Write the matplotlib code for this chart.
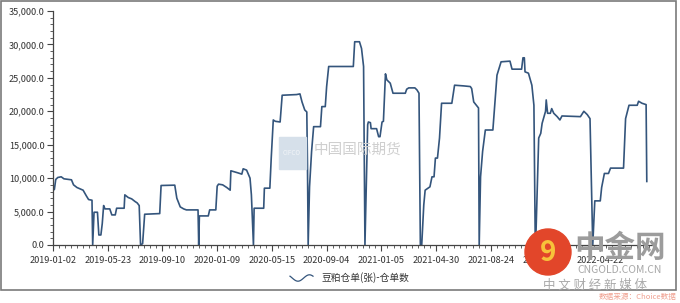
#!/usr/bin/env python3

import matplotlib
matplotlib.use("Agg")
import matplotlib.pyplot as plt
from matplotlib.ticker import FuncFormatter, AutoMinorLocator, MultipleLocator
from matplotlib.patches import Rectangle, Ellipse
from matplotlib.lines import Line2D
import numpy as np

plt.rcParams['font.family'] = ['Noto Sans CJK SC', 'DejaVu Sans']

# trading-day index of each turning point, and the receipt count there
day_idx = [0, 2, 4, 7, 12, 16, 27, 30, 35, 44, 49, 52, 57, 58, 60, 65, 67, 70,
           72, 74, 76, 83, 86, 91, 93, 104, 105, 110, 115, 120, 123, 126, 128,
           131, 134, 156, 158, 178, 181, 186, 191, 195, 212, 213, 214, 227, 229,
           238, 240, 242, 248, 254, 259, 260, 270, 276, 278, 283, 288, 290, 293,
           294, 308, 309, 317, 319, 322, 325, 332, 335, 356, 361, 364, 368, 371,
           372, 373, 375, 378, 381, 391, 393, 398, 400, 403, 439, 441, 448, 451,
           454, 456, 460, 461, 464, 465, 473, 476, 478, 481, 483, 486, 488, 493,
           497, 515, 517, 520, 529, 532, 535, 537, 539, 542, 544, 551, 554, 557,
           559, 562, 565, 568, 583, 587, 600, 610, 612, 615, 619, 622, 623, 625,
           628, 632, 643, 645, 649, 655, 668, 671, 685, 687, 689, 690, 695, 700,
           703, 705, 706, 710, 713, 715, 720, 721, 723, 727, 729, 732, 737, 741,
           744, 771, 776, 781, 785, 789, 792, 800, 802, 806, 812, 815, 834, 837,
           842, 854, 856, 861, 867, 868]
receipts = [8200, 8300, 9800, 10100, 10200, 9900, 9750, 9000, 8600, 8200, 7300,
            6800, 6700, 0, 4900, 4900, 1500, 1500, 3200, 5900, 5400, 5400, 4500,
            4500, 5500, 5500, 7500, 7100, 6900, 6500, 6300, 5900, 0, 200, 4600,
            4700, 8900, 8950, 7000, 5700, 5400, 5250, 5250, 0, 4350, 4350, 5250,
            5250, 8800, 9100, 9000, 8600, 8200, 11100, 10800, 10600, 11400, 11200,
            10000, 7500, 0, 5500, 5500, 8500, 8500, 13000, 18700, 18500, 18400,
            22400, 22500, 22600, 21400, 20200, 19900, 12000, 0, 8700, 14000,
            17700, 17700, 20700, 20700, 23700, 26700, 26700, 30400, 30400, 29400,
            26700, 0, 18000, 18400, 18300, 17400, 17400, 16200, 16200, 18400,
            18500, 25600, 24700, 24200, 22700, 22700, 23300, 23500, 23500, 23200,
            22700, 0, 0, 6000, 8200, 8700, 10200, 10200, 13000, 13000, 16000,
            21200, 21200, 23900, 23800, 23700, 23400, 21400, 20900, 20500, 0,
            10200, 14000, 17200, 17200, 20000, 25400, 27400, 27500, 26300, 26300,
            28000, 28000, 25900, 25700, 23900, 20900, 0, 1700, 16000, 16700,
            18200, 20000, 21700, 19700, 19700, 20400, 19700, 19200, 18700, 19300,
            19200, 20000, 19500, 18900, 0, 6600, 6600, 8600, 10700, 10700, 11500,
            11500, 18900, 20900, 20900, 21500, 21200, 21000, 9500]

date_labels = ['2019-01-02', '2019-05-23', '2019-09-10', '2020-01-09',
               '2020-05-15', '2020-09-04', '2021-01-05', '2021-04-30',
               '2021-08-24', '2021-12-17', '2022-04-22']
label_step = 80

W, H = 680, 303


def fx(px):
    return px / W


def fy(py):
    return 1 - py / H


fig = plt.figure(figsize=(6.8, 3.03), dpi=100)
ax = fig.add_axes([fx(53), 58 / H, 602 / W, 234 / H])

ax.plot(day_idx, receipts, color='#34557c', lw=1.2, zorder=2)

ax.set_xlim(0, 880)
ax.set_ylim(0, 35000)

# ticks
ax.set_xticks(np.arange(len(date_labels)) * label_step)
ax.set_xticklabels(date_labels)
ax.xaxis.set_minor_locator(MultipleLocator(label_step / 9))
ax.yaxis.set_major_locator(MultipleLocator(5000))
ax.yaxis.set_minor_locator(AutoMinorLocator(5))
ax.yaxis.set_major_formatter(FuncFormatter(lambda v, p: '{:,.1f}'.format(v)))

ax.tick_params(axis='both', which='major', direction='out', length=4,
               width=0.8, color='#444444', labelsize=6.6, labelcolor='#333333',
               pad=2)
ax.tick_params(axis='both', which='minor', direction='out', length=2,
               width=0.6, color='#444444')
ax.tick_params(axis='x', which='major', pad=4)

for s in ['top', 'right']:
    ax.spines[s].set_visible(False)
for s in ['left', 'bottom']:
    ax.spines[s].set_color('#444444')
    ax.spines[s].set_linewidth(0.9)

# outer border of the picture
fig.patches.append(Rectangle((fx(1), fy(290)), 675 / W, 289 / H,
                             transform=fig.transFigure, fill=False,
                             edgecolor='#7a7a7a', lw=1.2))

# legend
wx = np.linspace(290, 313, 30)
wy = 278 + 3.2 * np.sin((wx - 290) / 23 * 2 * np.pi - 0.6)
fig.add_artist(Line2D(fx(wx), fy(wy), transform=fig.transFigure,
                      color='#34557c', lw=0.9))
fig.text(fx(322), fy(278), '豆粕仓单(张)-仓单数', fontsize=7,
         color='#333333', va='center', ha='left')

# watermark of the source
fig.patches.append(Rectangle((fx(279), fy(169)), 27 / W, 32 / H,
                             transform=fig.transFigure, color='#d6e0ea',
                             zorder=1))
fig.text(fx(292), fy(153), 'CIFCO', fontsize=4.5, color='#f2f5f8',
         ha='center', va='center')
fig.text(fx(357), fy(150), '中国国际期货', fontsize=10.5,
         color='#cfcfcf', ha='center', va='center')

# 中金网 logo
fig.patches.append(Ellipse((fx(548), fy(252)), 46 / W, 46 / H,
                           transform=fig.transFigure, color='#e2462a',
                           zorder=5))
fig.text(fx(548), fy(253), '9', fontsize=20, fontweight='bold',
         color='#f7c23a', ha='center', va='center', zorder=6)
fig.text(fx(620), fy(248), '中金网', fontsize=22, fontweight='bold',
         color='#9c9c9c', ha='center', va='center', zorder=6)
fig.text(fx(620), fy(270), 'CNGOLD.COM.CN', fontsize=7.5,
         color='#a8a8a8', ha='center', va='center', zorder=6)
fig.text(fx(595), fy(285), '中 文 财 经 新 媒 体', fontsize=9,
         color='#aaaaaa', ha='center', va='center', zorder=6)
fig.text(fx(677), fy(297), '数据来源：Choice数据', fontsize=5.5,
         color='#f0a090', ha='right', va='center', zorder=6)

fig.savefig('out.png', dpi=100)
